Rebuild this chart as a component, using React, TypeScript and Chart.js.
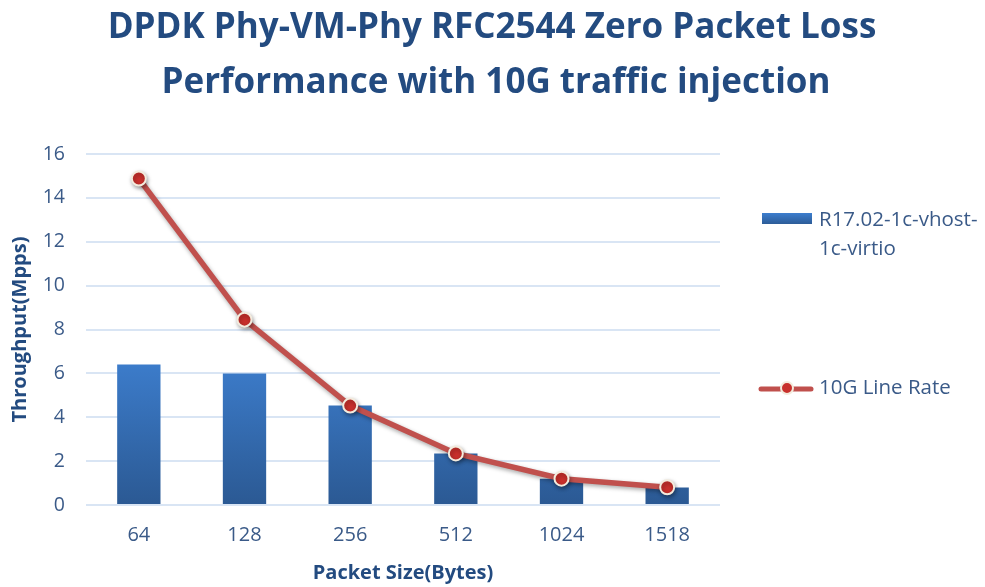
import React, { useEffect, useRef } from "react";
import { Chart, registerables } from "chart.js";

Chart.register(...registerables);

const categories = ["64", "128", "256", "512", "1024", "1518"];
const vhostValues = [6.4, 6.0, 4.53, 2.35, 1.2, 0.8];
const lineRateValues = [14.88, 8.45, 4.53, 2.35, 1.2, 0.81];
const titleLines = ["DPDK Phy-VM-Phy RFC2544 Zero Packet Loss", "Performance with 10G traffic injection"];
const seriesNames = ["R17.02-1c-vhost-1c-virtio", "10G Line Rate"];
const legendBarLines = ["R17.02-1c-vhost-", "1c-virtio"];

const FONT = "'Open Sans', Lato, sans-serif";
const TEXT = "#3A5A88";
const TITLE = "#234B80";
const RED = "#C0504D";
const GRID = "#D9E5F4";

function barGradient(ctx: CanvasRenderingContext2D, top: number, bottom: number) {
  const g = ctx.createLinearGradient(0, top, 0, bottom);
  g.addColorStop(0, "#3D7ECE");
  g.addColorStop(1, "#2B5993");
  return g;
}

const extrasPlugin = {
  id: "extras",
  beforeDatasetDraw(chart: any, args: any) {
    if (args.index === 1) {
      const ctx = chart.ctx;
      ctx.save();
      ctx.shadowColor = "rgba(0,0,0,0.35)";
      ctx.shadowBlur = 4;
      ctx.shadowOffsetX = 1;
      ctx.shadowOffsetY = 2;
    }
  },
  afterDatasetDraw(chart: any, args: any) {
    if (args.index === 1) chart.ctx.restore();
  },
  afterDraw(chart: any) {
    const ctx = chart.ctx as CanvasRenderingContext2D;
    ctx.save();
    // Title
    ctx.fillStyle = TITLE;
    ctx.font = `bold 35px ${FONT}`;
    ctx.textAlign = "center";
    ctx.textBaseline = "alphabetic";
    ctx.fillText(titleLines[0], 492, 38);
    ctx.fillText(titleLines[1], 496, 93);

    // Legend: bar
    ctx.fillStyle = barGradient(ctx, 213, 225);
    ctx.fillRect(762, 213, 50, 11);
    ctx.fillStyle = TEXT;
    ctx.font = `20.5px ${FONT}`;
    ctx.textAlign = "left";
    ctx.textBaseline = "middle";
    ctx.fillText(legendBarLines[0], 819, 220);
    ctx.fillText(legendBarLines[1], 819, 249);

    // Legend: line
    ctx.strokeStyle = RED;
    ctx.lineWidth = 5;
    ctx.lineCap = "round";
    ctx.beginPath();
    ctx.moveTo(761, 389);
    ctx.lineTo(811, 389);
    ctx.stroke();
    ctx.beginPath();
    ctx.arc(787, 388, 6, 0, Math.PI * 2);
    ctx.fillStyle = "#C8302C";
    ctx.fill();
    ctx.lineWidth = 2;
    ctx.strokeStyle = "#F3EBDD";
    ctx.stroke();
    ctx.fillStyle = TEXT;
    ctx.fillText(seriesNames[1], 819, 388);
    ctx.restore();
  },
};

export default function App() {
  const ref = useRef<HTMLCanvasElement>(null);
  useEffect(() => {
    if (!ref.current) return;
    const chart = new Chart(ref.current, {
      type: "bar",
      data: {
        labels: categories,
        datasets: [
          {
            type: "bar",
            label: seriesNames[0],
            data: vhostValues,
            backgroundColor: (c: any) => {
              const area = c.chart.chartArea;
              if (!area) return "#3470B8";
              return barGradient(c.chart.ctx, area.top + 200, area.bottom);
            },
            barPercentage: 0.41,
            categoryPercentage: 1,
            order: 2,
          },
          {
            type: "line",
            label: seriesNames[1],
            data: lineRateValues,
            borderColor: RED,
            borderWidth: 5.5,
            pointRadius: 7,
            pointBackgroundColor: "#C8302C",
            pointBorderColor: "#F3EBDD",
            pointBorderWidth: 2,
            tension: 0,
            order: 1,
          } as any,
        ],
      },
      options: {
        responsive: false,
        animation: false,
        devicePixelRatio: 1,
        layout: { padding: { top: 154, right: 265, bottom: 0, left: 0 } },
        plugins: {
          legend: { display: false },
          title: { display: false },
          tooltip: { enabled: false },
        },
        scales: {
          x: {
            grid: { display: false },
            border: { display: false },
            ticks: { color: TEXT, font: { family: FONT, size: 20 }, padding: 10 },
            title: {
              display: true,
              text: "Packet Size(Bytes)",
              color: TITLE,
              font: { family: FONT, size: 20, weight: "bold" },
              padding: { top: 0, bottom: 2 },
            },
            afterFit: (s: any) => {
              s.height = 82;
            },
          },
          y: {
            min: 0,
            max: 16,
            ticks: { stepSize: 2, color: TEXT, font: { family: FONT, size: 19.5 }, padding: 21 },
            grid: { color: GRID, lineWidth: 2, drawTicks: false },
            border: { display: false },
            title: {
              display: true,
              text: "Throughput(Mpps)",
              color: TITLE,
              font: { family: FONT, size: 20, weight: "bold" },
              padding: { top: 8, bottom: 0 },
            },
            afterFit: (s: any) => {
              s.width = 86;
            },
          },
        },
      },
      plugins: [extrasPlugin],
    });
    return () => chart.destroy();
  }, []);
  return (
    <div style={{ position: "fixed", left: 0, top: 0, width: 985, height: 587, background: "#fff" }}>
      <canvas ref={ref} width={985} height={587} style={{ width: 985, height: 587, display: "block" }} />
    </div>
  );
}
